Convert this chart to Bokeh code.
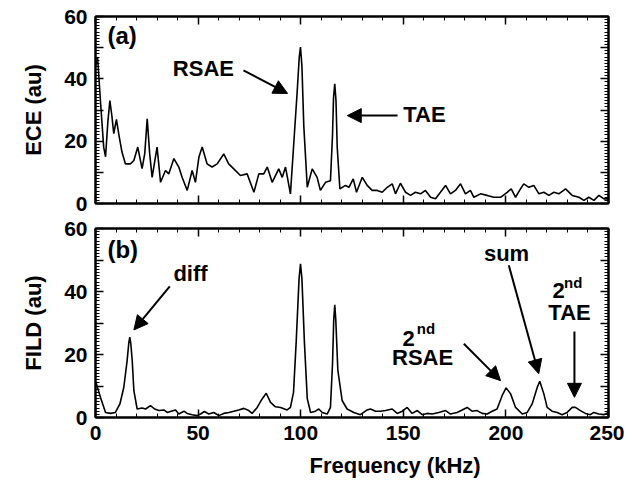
from bokeh.plotting import figure
from bokeh.models import (Range1d, LinearAxis, SingleIntervalTicker, Label, Arrow,
                          NormalHead, CustomJSTickFormatter, Title)
from bokeh.layouts import column
from bokeh.embed import file_html
from bokeh.resources import INLINE

# ---------------- data ----------------
ece_freq = [0.0, 1.0, 2.5, 4.0, 4.9, 6.0, 7.0, 8.0, 8.9, 10.2, 11.4, 12.9, 14.6, 17.0, 18.7,
            20.6, 22.7, 24.0, 25.2, 26.4, 27.6, 30.0, 31.7, 34.1, 35.7, 38.2, 40.6, 42.2,
            44.7, 47.1, 48.7, 50.4, 52.0, 54.4, 56.8, 59.3, 62.5, 64.9, 67.4, 70.6, 73.9,
            77.2, 79.6, 82.0, 83.7, 86.1, 89.3, 91.0, 92.6, 95.0, 96.6, 98.3, 99.3, 99.9,
            100.6, 101.5, 103.2, 105.6, 108.0, 109.6, 112.1, 114.5, 115.5, 116.0, 116.6,
            117.2, 117.8, 119.1, 121.8,
            123.5, 125.6, 127.2, 130.0, 132.4, 134.8, 137.3, 139.7, 142.2, 144.6, 146.2,
            148.6, 151.1, 153.5, 155.9, 158.4, 160.8, 163.3, 165.7, 168.1, 170.6, 173.0,
            175.4, 177.9, 180.3, 182.7, 184.4, 187.6, 190.9, 194.1, 197.4, 200.6, 202.6,
            204.7, 207.1, 208.7, 211.2, 213.6, 216.1, 218.5, 220.9, 223.4, 225.8, 229.1,
            232.3, 235.6, 238.0, 240.4, 242.9, 245.3, 247.8, 250.0]
ece_vals = [44.0, 47.0, 32.0, 18.0, 15.0, 26.0, 33.0, 28.0, 22.4, 27.0, 22.0, 16.5, 12.7, 12.7,
            13.8, 18.1, 11.2, 16.0, 27.2, 16.0, 8.4, 18.1, 6.8, 10.6, 9.5, 14.4, 11.7, 8.4,
            4.2, 10.6, 6.8, 14.9, 18.1, 12.7, 11.7, 12.7, 15.9, 12.7, 11.1, 9.0, 9.5,
            3.6, 9.5, 9.5, 11.7, 6.8, 11.1, 8.4, 11.7, 3.1, 19.0, 36.0, 47.0, 50.2,
            44.0, 25.0, 5.2, 11.1, 8.4, 4.2, 6.8, 7.3, 22.0, 34.0, 38.4,
            33.0, 18.0, 4.7, 5.8,
            5.2, 7.9, 3.6, 8.4, 5.8, 4.2, 4.2, 3.6, 5.2, 6.3, 3.1,
            6.5, 3.6, 2.6, 3.6, 3.1, 4.2, 2.0, 1.5, 3.6, 5.8, 3.1,
            4.2, 6.3, 3.1, 4.2, 2.0, 3.1, 2.6, 2.0, 2.0, 3.6, 4.7,
            2.0, 4.7, 6.3, 5.2, 5.8, 3.1, 3.6, 2.6, 3.6, 3.1, 4.7,
            2.6, 2.0, 1.0, 2.0, 1.0, 2.6, 1.5, 1.5]

fild_freq = [0.0, 0.5, 2.4, 4.9, 7.3, 9.7, 11.9, 13.8, 15.4, 16.2, 16.7, 17.2, 17.9, 18.7,
             20.3, 22.7,
             24.4, 26.8, 28.8, 30.9, 33.3, 35.0, 36.9, 39.0, 40.6, 43.1, 44.7, 47.1, 49.5,
             51.2, 53.1, 55.2, 57.7, 60.1, 62.5, 65.0, 67.4, 69.8, 72.3, 74.7, 76.3, 78.8,
             81.2, 83.2, 85.3, 87.7, 90.2, 93.4, 95.0, 96.5, 97.8, 99.2, 99.9, 100.6, 101.8,
             103.2, 104.8, 107.2, 108.8, 110.5, 112.9, 114.5, 115.5, 116.1, 116.6, 117.1,
             118.1, 120.2, 122.6, 125.9, 129.1,
             132.4, 134.0, 136.5, 138.9, 141.3, 144.6, 147.0, 149.5, 151.9, 154.3, 156.8,
             159.2, 161.6, 164.1, 167.3, 170.6, 173.0, 176.2, 178.7, 181.1, 183.5, 186.0,
             188.4, 190.9, 193.3, 195.7, 198.2, 200.1, 202.3, 204.7, 208.0, 210.4, 212.8,
             215.3, 216.5, 218.5, 220.1, 222.5, 225.0, 227.4, 229.8, 232.3, 233.9, 236.3,
             238.7, 241.2, 242.8, 245.3, 247.7, 250.0]
fild_vals = [11.0, 10.6, 6.4, 1.6, 1.3, 1.6, 4.3, 9.6, 18.0, 23.5, 25.5, 23.5, 18.0, 8.5,
             2.7, 3.0,
             2.7, 3.8, 2.7, 2.2, 2.4, 1.6, 2.0, 2.4, 1.1, 2.0, 1.3, 0.9, 0.6,
             1.1, 1.9, 1.1, 1.6, 0.6, 1.3, 1.6, 2.0, 2.4, 2.9, 2.2, 1.3, 3.2,
             5.9, 7.7, 4.8, 3.4, 3.2, 2.4, 3.2, 8.0, 24.0, 44.0, 48.8, 44.0, 24.0,
             6.0, 1.6, 2.0, 2.7, 1.6, 1.1, 3.2, 17.0, 31.0, 35.8, 31.0,
             15.0, 5.4, 2.7, 1.6, 0.9,
             2.4, 2.7, 2.0, 2.0, 2.2, 2.7, 1.3, 2.0, 3.2, 1.3, 2.2,
             0.9, 1.3, 1.1, 1.6, 2.2, 1.1, 1.6, 2.4, 3.2, 2.0, 2.2,
             1.3, 1.1, 2.0, 2.7, 7.0, 9.4, 7.5, 3.2, 1.1, 1.6, 4.3,
             9.6, 11.5, 7.5, 3.2, 2.0, 1.6, 0.9, 1.6, 3.2, 3.2, 2.2,
             1.3, 0.9, 1.6, 1.1, 0.9, 1.6]

x_ticks_interval = 50
y_ticks_interval = 10

FONT = "Liberation Sans"


def style_axis(ax, show_labels):
    ax.axis_line_width = 2
    ax.axis_line_color = "black"
    ax.major_tick_in = 8
    ax.major_tick_out = 0
    ax.minor_tick_in = 4
    ax.minor_tick_out = 0
    ax.major_tick_line_width = 1.5
    ax.minor_tick_line_width = 1
    ax.major_tick_line_color = "black"
    ax.minor_tick_line_color = "black"
    ax.major_label_text_font = FONT
    ax.major_label_text_font_style = "bold"
    ax.major_label_text_color = "black"
    ax.major_label_standoff = 8
    ax.axis_label_text_font = FONT
    ax.axis_label_text_font_style = "bold"
    ax.axis_label_text_font_size = "22px"
    ax.axis_label_text_color = "black"
    if show_labels:
        ax.major_label_text_font_size = "21px"
    else:
        ax.major_label_text_font_size = "0px"
        ax.major_label_standoff = 0
        ax.formatter = CustomJSTickFormatter(code="return '';")


def make_fig(height, top, bottom, ylabel, show_x_labels):
    p = figure(width=624, height=height, x_range=Range1d(0, 250), y_range=Range1d(0, 60),
               output_backend="svg", toolbar_location=None, x_axis_type=None, y_axis_type=None,
               min_border_left=95, min_border_right=16, min_border_top=top,
               min_border_bottom=bottom)
    p.xgrid.visible = False
    p.ygrid.visible = False
    p.outline_line_color = "black"
    p.outline_line_width = 2
    p.background_fill_color = "white"
    p.border_fill_color = "white"

    for loc in ("below", "above"):
        ax = LinearAxis(ticker=SingleIntervalTicker(interval=x_ticks_interval, num_minor_ticks=5))
        style_axis(ax, show_x_labels and loc == "below")
        p.add_layout(ax, loc)
    for loc in ("left", "right"):
        ax = LinearAxis(ticker=SingleIntervalTicker(interval=y_ticks_interval, num_minor_ticks=10),
                        formatter=CustomJSTickFormatter(
                            code="var t = Math.round(tick); return (t % 20 === 0) ? t.toString() : '';"))
        style_axis(ax, loc == "left")
        if loc == "left":
            ax.axis_label = ylabel
            ax.axis_label_standoff = 15
        p.add_layout(ax, loc)
    return p


def add_text(p, x, y, text, size="22px", align="center", baseline="middle"):
    p.add_layout(Label(x=x, y=y, text=text, text_font=FONT, text_font_style="bold",
                       text_font_size=size, text_align=align, text_baseline=baseline,
                       text_color="black"))


def add_arrow(p, x0, y0, x1, y1):
    p.add_layout(Arrow(end=NormalHead(size=14, fill_color="black", line_color="black"),
                       x_start=x0, y_start=y0, x_end=x1, y_end=y1,
                       line_color="black", line_width=2))


# ---------------- top panel ----------------
p1 = make_fig(216, 16, 13, "ECE (au)", False)
p1.line(ece_freq, ece_vals, line_color="black", line_width=1.6)
add_text(p1, 5.8, 54.0, "(a)", size="24px", align="left")
add_text(p1, 52.6, 43.3, "RSAE")
add_arrow(p1, 72.1, 42.7, 93.6, 35.3)
add_text(p1, 160.3, 28.6, "TAE")
add_arrow(p1, 147.2, 28.2, 122.7, 28.2)

# ---------------- bottom panel ----------------
p2 = make_fig(274, 12, 73, "FILD (au)", True)
p2.line(fild_freq, fild_vals, line_color="black", line_width=1.6)
add_text(p2, 5.8, 53.3, "(b)", size="24px", align="left")
add_text(p2, 46.3, 45.7, "diff")
add_arrow(p2, 36.2, 41.6, 18.7, 27.8)
add_text(p2, 200.3, 52.1, "sum")
add_arrow(p2, 201.4, 48.3, 216.0, 13.9)
add_text(p2, 222.7, 40.3, "2", align="left", baseline="alphabetic")
add_text(p2, 228.3, 42.9, "nd", size="15px", align="left", baseline="alphabetic")
add_text(p2, 231.0, 33.3, "TAE")
add_arrow(p2, 233.4, 27.3, 233.4, 6.4)
add_text(p2, 149.6, 25.1, "2", align="left", baseline="alphabetic")
add_text(p2, 156.6, 28.3, "nd", size="15px", align="left", baseline="alphabetic")
add_text(p2, 159.4, 19.0, "RSAE")
add_arrow(p2, 179.5, 23.4, 197.4, 11.7)
# x-axis title
p2.add_layout(Title(text="Frequency (kHz)", align="left", offset=214, standoff=17,
                    text_font=FONT, text_font_style="bold", text_font_size="22px",
                    text_color="black"), "below")

layout = column(p1, p2)
open("out.html", "w").write(file_html(layout, INLINE))
